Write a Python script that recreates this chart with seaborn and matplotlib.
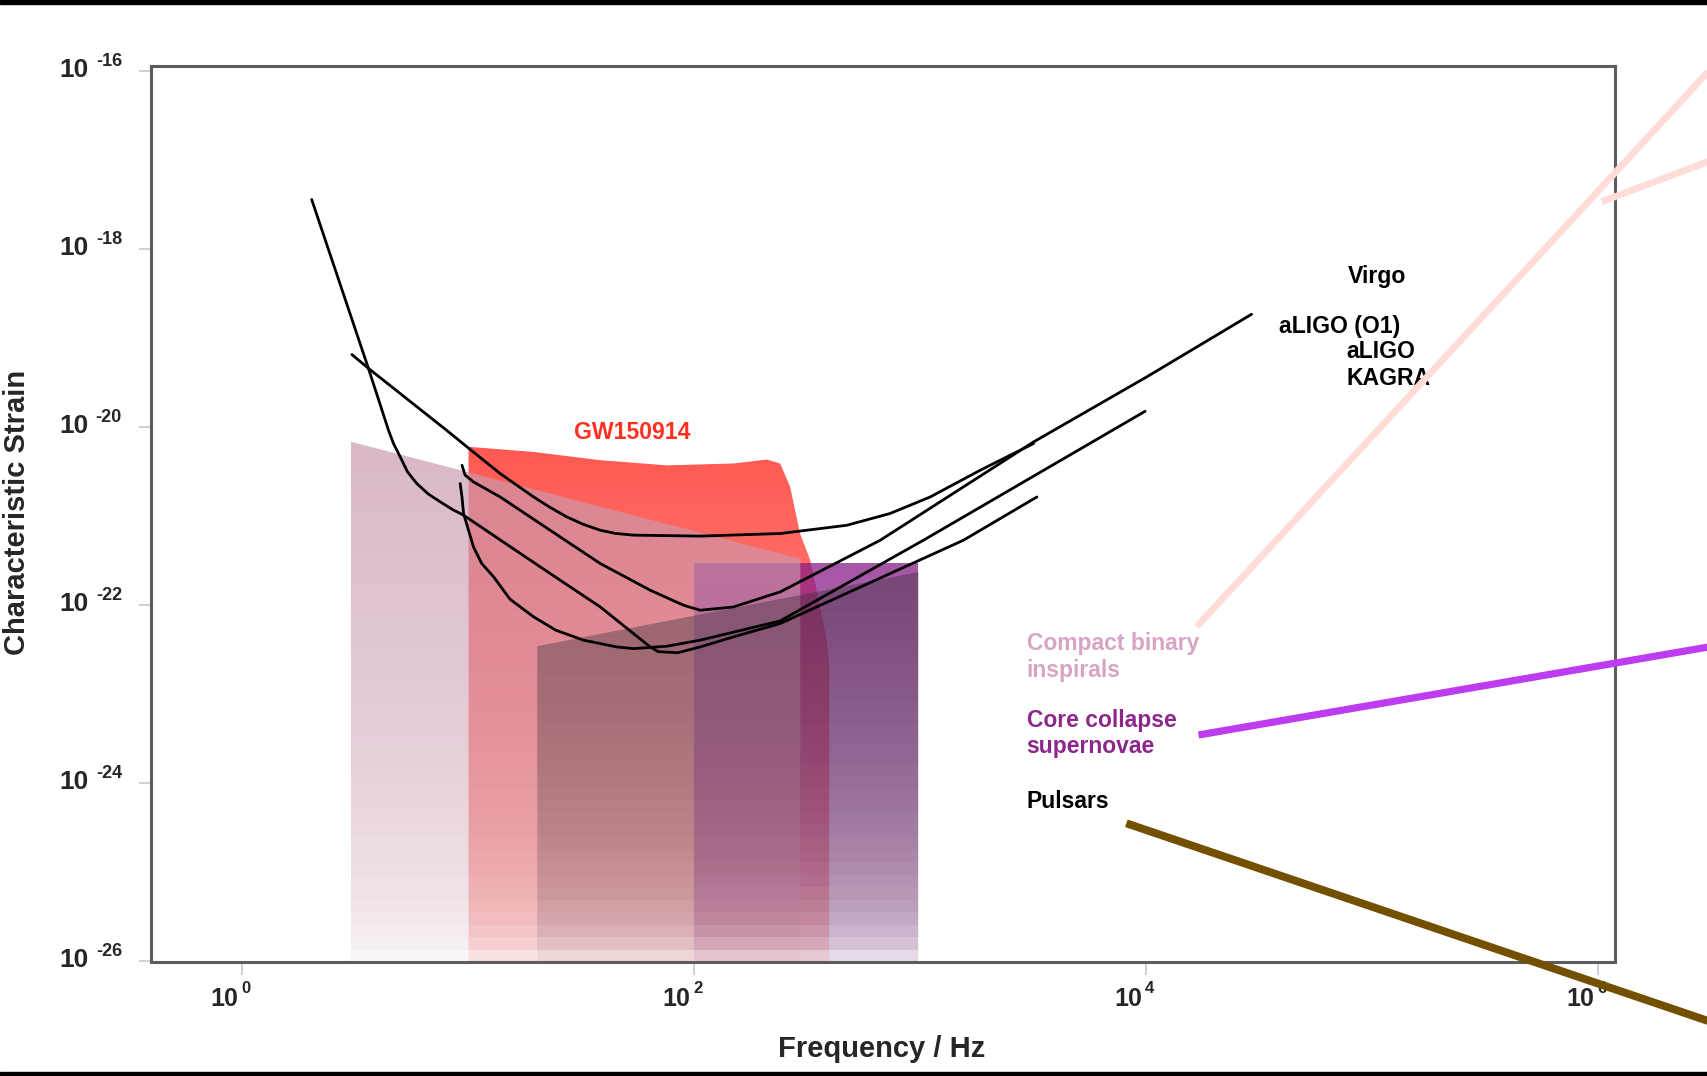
import numpy as np
import pandas as pd
import matplotlib
matplotlib.use("Agg")
import matplotlib.pyplot as plt
import seaborn as sns
from matplotlib.patches import Polygon, Rectangle
from matplotlib.lines import Line2D
from matplotlib.ticker import NullLocator

# ---------------------------------------------------------------------------
# Detector noise curves: log10(frequency / Hz) and log10(characteristic strain)
# ---------------------------------------------------------------------------
virgo_logf = [0.486, 0.559, 0.906, 0.995, 1.142, 1.290, 1.364, 1.437, 1.508,
              1.585, 1.653, 1.732, 2.027, 2.381, 2.676, 2.867, 3.045, 3.266,
              3.502]
virgo_logh = [-19.186, -19.341, -20.039, -20.223, -20.523, -20.786, -20.905,
              -21.010, -21.092, -21.160, -21.196, -21.215, -21.226, -21.197,
              -21.104, -20.972, -20.786, -20.486, -20.186]

aligo_o1_logf = [0.973, 0.987, 1.024, 1.142, 1.363, 1.585, 1.806, 1.953, 2.027,
                 2.174, 2.381, 2.824, 3.502, 4.003, 4.467]
aligo_o1_logh = [-20.430, -20.541, -20.617, -20.786, -21.160, -21.534, -21.834,
                 -22.002, -22.059, -22.022, -21.853, -21.272, -20.168, -19.437,
                 -18.733]

aligo_logf = [0.965, 0.973, 0.980, 1.024, 1.060, 1.113, 1.186, 1.290, 1.388,
              1.511, 1.658, 1.732, 1.880, 2.027, 2.381, 3.015, 3.996]
aligo_logh = [-20.635, -20.786, -20.972, -21.348, -21.532, -21.684, -21.936,
              -22.133, -22.283, -22.395, -22.471, -22.490, -22.463, -22.395,
              -22.179, -21.272, -19.823]

kagra_logf = [0.308, 0.559, 0.648, 0.670, 0.700, 0.732, 0.773, 0.825, 0.877,
              0.929, 0.980, 1.363, 1.585, 1.732, 1.806, 1.841, 1.928, 2.027,
              2.173, 2.381, 3.192, 3.517]
kagra_logh = [-17.444, -19.341, -20.037, -20.186, -20.337, -20.504, -20.635,
              -20.755, -20.841, -20.924, -20.991, -21.646, -22.022, -22.321,
              -22.471, -22.524, -22.536, -22.471, -22.359, -22.208, -21.272,
              -20.786]

# ---------------------------------------------------------------------------
# Source regions (log10 f, log10 h outlines of the upper boundary)
# ---------------------------------------------------------------------------
gw150914_logf = [1.002, 1.290, 1.585, 1.880, 2.174, 2.322, 2.381, 2.425, 2.469,
                 2.514, 2.558, 2.587, 2.598]
gw150914_logh = [-20.223, -20.280, -20.373, -20.431, -20.410, -20.366, -20.410,
                 -20.673, -21.197, -21.496, -22.022, -22.395, -22.671]

inspiral_logf = [0.482, 2.470]
inspiral_logh = [-20.165, -21.481]

pulsar_logf = [1.306, 2.993]
pulsar_logh = [-22.463, -21.630]

supernova_logf = [2.000, 2.993]
supernova_logh = [-21.526, -21.526]

floor_logh = -26.0

x_ticks = [0, 2, 4, 6]
y_ticks = [-16, -18, -20, -22, -24, -26]

# ---------------------------------------------------------------------------
sns.set_theme(style="white")
plt.rcParams['font.family'] = ['Liberation Sans', 'DejaVu Sans']
plt.rcParams['font.weight'] = 'bold'

W, H = 1708, 1076
fig = plt.figure(figsize=(W / 100, H / 100), dpi=100)
fig.patch.set_facecolor('white')
ax = fig.add_axes([151 / W, 1 - 962 / H, (1615 - 151) / W, (962 - 66) / H])
ax.set_xscale('log')
ax.set_yscale('log')
ax.set_xlim(10 ** -0.403, 10 ** 6.075)
ax.set_ylim(10 ** -26.011, 10 ** -15.944)

band_edges = np.arange(-26.011, -15.9, 0.14)


def gradient_region(logf, logh, rgb, a_top, zorder, gamma=0.45):
    """Fill the area under an outline down to the floor with a fading colour."""
    lf = np.concatenate([[logf[0]], logf, [logf[-1]]])
    lh = np.concatenate([[floor_logh], logh, [floor_logh]])
    poly = Polygon(np.column_stack([10 ** lf, 10 ** lh]), closed=True,
                   facecolor='none', edgecolor='none', transform=ax.transData)
    ax.add_patch(poly)
    top = max(logh)
    for lo, hi in zip(band_edges[:-1], band_edges[1:]):
        if lo >= top:
            break
        mid = min((lo + hi) / 2, top)
        t = np.clip((top - mid) / (top - floor_logh), 0, 1)
        a = a_top * (1 - t) ** gamma
        span = ax.axhspan(10 ** lo, 10 ** hi, color=rgb, alpha=a, lw=0,
                          zorder=zorder, antialiased=False)
        span.set_clip_path(poly)


def rgb(r, g, b):
    return (r / 255, g / 255, b / 255)


gradient_region(gw150914_logf, gw150914_logh, rgb(255, 80, 72), 0.95, 1)
gradient_region(supernova_logf, supernova_logh, rgb(135, 28, 135), 0.75, 2)
gradient_region(inspiral_logf, inspiral_logh, rgb(201, 154, 176), 0.70, 3)
gradient_region(pulsar_logf, pulsar_logh, rgb(60, 50, 60), 0.43, 4)

# Detector sensitivity curves
curves = {
    'Virgo': (virgo_logf, virgo_logh),
    'aLIGO (O1)': (aligo_o1_logf, aligo_o1_logh),
    'aLIGO': (aligo_logf, aligo_logh),
    'KAGRA': (kagra_logf, kagra_logh),
}
rows = []
for name, (lf, lh) in curves.items():
    for a, b in zip(lf, lh):
        rows.append((name, 10 ** a, 10 ** b))
df = pd.DataFrame(rows, columns=['detector', 'freq', 'strain'])
sns.lineplot(data=df, x='freq', y='strain', hue='detector',
             palette={k: 'black' for k in curves}, sort=False, estimator=None,
             legend=False, linewidth=2.0, ax=ax, zorder=6)
for ln in ax.lines:
    ln.set_solid_joinstyle('round')
    ln.set_solid_capstyle('round')
ax.set_xlabel('')
ax.set_ylabel('')

# Frame and ticks
for sp in ax.spines.values():
    sp.set_color('#5c5c5c')
    sp.set_linewidth(2.2)
    sp.set_zorder(7)
ax.set_xticks([10.0 ** v for v in x_ticks])
ax.set_yticks([10.0 ** v for v in y_ticks])
ax.set_xticklabels([])
ax.set_yticklabels([])
ax.xaxis.set_minor_locator(NullLocator())
ax.yaxis.set_minor_locator(NullLocator())
ax.tick_params(axis='both', which='major', direction='out', length=9,
               width=1.5, color='#d2d2d2', bottom=True, left=True)
ax.grid(False)

for v in y_ticks:
    ax.annotate('10', xy=(0, 10.0 ** v), xycoords=ax.get_yaxis_transform(),
                xytext=(-44.6, -4.5), textcoords='offset points',
                ha='right', va='baseline', fontsize=19, fontweight='bold')
    ax.annotate(f'{v}', xy=(0, 10.0 ** v), xycoords=ax.get_yaxis_transform(),
                xytext=(-20.9, 3.4), textcoords='offset points',
                ha='right', va='baseline', fontsize=13, fontweight='bold')

for v in x_ticks:
    ax.annotate('10', xy=(10.0 ** v, 0), xycoords=ax.get_xaxis_transform(),
                xytext=(-3.0, -32), textcoords='offset points',
                ha='right', va='baseline', fontsize=18, fontweight='bold')
    ax.annotate(f'{v}', xy=(10.0 ** v, 0), xycoords=ax.get_xaxis_transform(),
                xytext=(-0.6, -22.5), textcoords='offset points',
                ha='left', va='baseline', fontsize=12, fontweight='bold')


def fig_text(x, y, s, **kw):
    fig.text(x / W, 1 - y / H, s, **kw)


fig_text(17, 512, 'Characteristic Strain', rotation=90, ha='center',
         va='center', fontsize=21, fontweight='bold')
fig_text(882, 1049, 'Frequency / Hz', ha='center', va='center', fontsize=21,
         fontweight='bold')

fig_text(632.5, 439, 'GW150914', ha='center', va='baseline', fontsize=16.6,
         fontweight='bold', color='#ff2f22', zorder=8)

for label, x, y in [('Virgo', 1347.7, 283), ('aLIGO (O1)', 1279.3, 333.3),
                    ('aLIGO', 1346.7, 358.3), ('KAGRA', 1346.7, 385)]:
    fig_text(x, y, label, ha='left', va='baseline', fontsize=16.6,
             fontweight='bold', color='black', zorder=8)

for label, y, col in [('Compact binary', 650, '#d7a5c3'),
                      ('inspirals', 676.7, '#d7a5c3'),
                      ('Core collapse', 726.7, '#8c288c'),
                      ('supernovae', 753, '#8c288c'),
                      ('Pulsars', 808, 'black')]:
    fig_text(1026.7, y, label, ha='left', va='baseline', fontsize=16.5,
             fontweight='bold', color=col, zorder=8)

# Leader lines from the source labels
leaders = [
    ((1196.7, 626.7), (1720, 58.9), '#ffdcd7', 4.9),
    ((1601.7, 201.7), (1720, 157.2), '#ffdcd7', 4.9),
    ((1198.5, 735.0), (1720, 645.0), '#be3cf0', 5.2),
    ((1126.4, 823.3), (1720, 1025.0), '#735000', 5.7),
]
for (x1, y1), (x2, y2), col, lw in leaders:
    fig.add_artist(Line2D([x1 / W, x2 / W], [1 - y1 / H, 1 - y2 / H],
                          transform=fig.transFigure, color=col, lw=lw,
                          solid_capstyle='butt', zorder=15))

# Black bands along the top and bottom edges
fig.add_artist(Rectangle((0, 1 - 4 / H), 1, 4 / H, transform=fig.transFigure,
                         color='black', zorder=20))
fig.add_artist(Rectangle((0, 0), 1, 4 / H, transform=fig.transFigure,
                         color='black', zorder=20))

fig.savefig('out.png', dpi=100, facecolor='white')
